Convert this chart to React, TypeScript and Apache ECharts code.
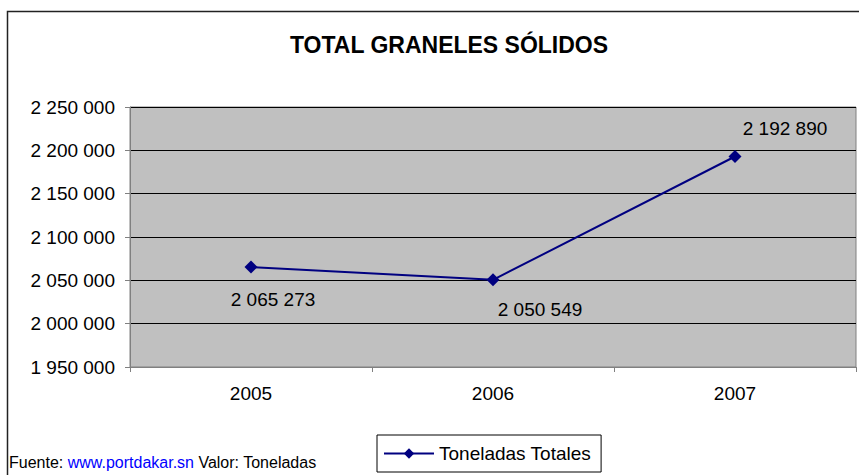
import React, { useEffect, useRef } from "react";
import * as echarts from "echarts";

const title = "TOTAL GRANELES SÓLIDOS";
const years = ["2005", "2006", "2007"];
const seriesName = "Toneladas Totales";
const tonnes = [2065273, 2050549, 2192890];
const yMin = 1950000;
const yMax = 2250000;
const yStep = 50000;
const footerSource = "Fuente: ";
const footerLink = "www.portdakar.sn";
const footerUnit = " Valor: Toneladas";

// label offsets (px) relative to each marker, as placed in the original
const labelOffsets: [number, number][] = [
  [22, 32],
  [47, 30],
  [50, -28],
];

const FONT = "'Liberation Sans', Arial, sans-serif";
const fmt = (v: number) =>
  String(Math.round(v)).replace(/\B(?=(\d{3})+(?!\d))/g, " ");

export default function App() {
  const ref = useRef<HTMLDivElement>(null);

  useEffect(() => {
    if (!ref.current) return;
    const chart = echarts.init(ref.current, undefined, { renderer: "svg" });
    const option: any = {
      animation: false,
      backgroundColor: "#ffffff",
      title: {
        text: title,
        left: 444,
        textAlign: "center",
        top: 28,
        textStyle: {
          fontFamily: FONT,
          fontSize: 23,
          fontWeight: "bold",
          color: "#000",
        },
      },
      grid: {
        left: 130,
        right: 3,
        top: 107,
        bottom: 108,
        show: true,
        backgroundColor: "#C0C0C0",
        borderColor: "#808080",
        borderWidth: 1,
        containLabel: false,
      },
      xAxis: {
        type: "category",
        data: years,
        boundaryGap: true,
        axisLine: { show: true, lineStyle: { color: "#808080", width: 1 } },
        axisTick: {
          show: true,
          length: 5,
          alignWithLabel: false,
          lineStyle: { color: "#808080" },
        },
        axisLabel: {
          margin: 17,
          fontFamily: FONT,
          fontSize: 19,
          color: "#000",
        },
        splitLine: { show: false },
      },
      yAxis: {
        type: "value",
        min: yMin,
        max: yMax,
        interval: yStep,
        axisLine: { show: true, lineStyle: { color: "#808080", width: 1 } },
        axisTick: { show: true, length: 5, lineStyle: { color: "#808080" } },
        axisLabel: {
          margin: 15,
          fontFamily: FONT,
          fontSize: 19,
          color: "#000",
          formatter: (v: number) => fmt(v),
        },
        splitLine: { show: true, lineStyle: { color: "#000", width: 1 } },
      },
      legend: {
        left: 377,
        top: 435,
        orient: "horizontal",
        padding: [9, 10, 9, 6],
        borderColor: "#000",
        borderWidth: 1,
        backgroundColor: "#fff",
        itemWidth: 50,
        itemHeight: 13,
        itemGap: 6,
        textStyle: { fontFamily: FONT, fontSize: 19, color: "#000" },
        data: [seriesName],
      },
      series: [
        {
          name: seriesName,
          type: "line",
          data: tonnes.map((v, i) => ({
            value: v,
            label: { offset: labelOffsets[i] },
          })),
          symbol: "diamond",
          symbolSize: 13,
          itemStyle: { color: "#000080" },
          lineStyle: { color: "#000080", width: 2 },
          label: {
            show: true,
            position: "inside",
            align: "center",
            verticalAlign: "middle",
            fontFamily: FONT,
            fontSize: 19,
            color: "#000",
            formatter: (p: any) => fmt(p.value),
          },
        },
      ],
      graphic: [
        {
          type: "rect",
          shape: { x: 7.5, y: 11.5, width: 900, height: 500 },
          style: { fill: "none", stroke: "#222", lineWidth: 1.5 },
          silent: true,
          z: 100,
        },
        {
          type: "text",
          left: 9,
          top: 454,
          style: {
            text: `{a|${footerSource}}{b|${footerLink}}{a|${footerUnit}}`,
            rich: {
              a: {
                fontFamily: "'Liberation Sans Narrow', 'Arial Narrow', 'Liberation Sans', sans-serif",
                fontSize: 16,
                fill: "#000",
              },
              b: {
                fontFamily: "'Liberation Sans Narrow', 'Arial Narrow', 'Liberation Sans', sans-serif",
                fontSize: 16,
                fill: "#0000FF",
              },
            },
          },
        },
      ],
    };
    chart.setOption(option);
    return () => chart.dispose();
  }, []);

  return (
    <div
      ref={ref}
      style={{ position: "absolute", left: 0, top: 0, width: 859, height: 475 }}
    />
  );
}
